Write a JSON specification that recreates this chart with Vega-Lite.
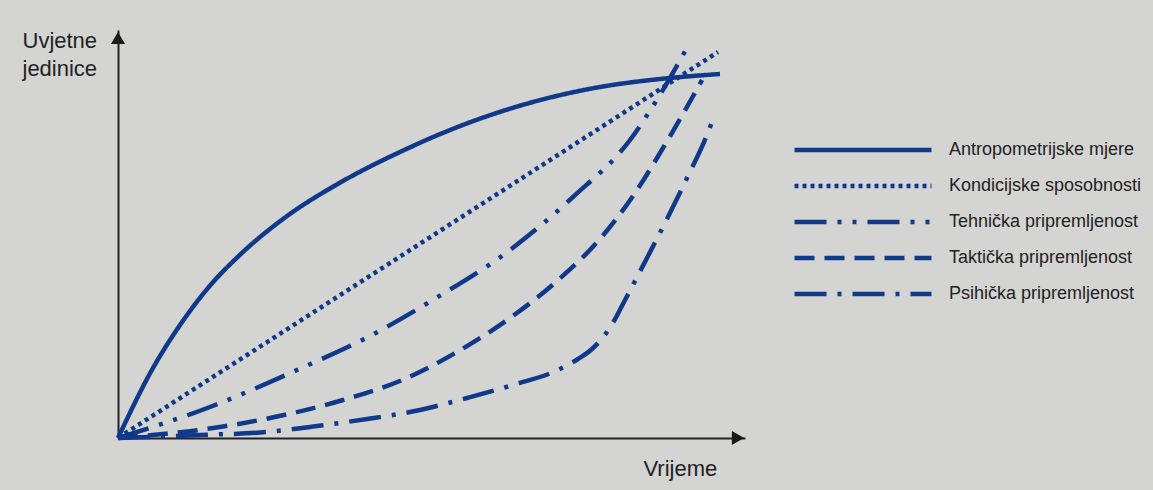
{
  "$schema": "https://vega.github.io/schema/vega-lite/v6.json",
  "width": 627,
  "height": 408,
  "autosize": {"type": "none"},
  "padding": {"left": 118, "top": 30, "right": 408, "bottom": 52},
  "background": "#d4d4d2",
  "config": {
    "view": {"stroke": null},
    "font": "Liberation Sans"
  },
  "datasets": {
    "curves": [
      {"serija": "Antropometrijske mjere", "t": 0, "v": 0},
      {"serija": "Antropometrijske mjere", "t": 35, "v": 70},
      {"serija": "Antropometrijske mjere", "t": 60, "v": 110},
      {"serija": "Antropometrijske mjere", "t": 90, "v": 150},
      {"serija": "Antropometrijske mjere", "t": 125, "v": 186},
      {"serija": "Antropometrijske mjere", "t": 165, "v": 219},
      {"serija": "Antropometrijske mjere", "t": 225, "v": 257},
      {"serija": "Antropometrijske mjere", "t": 282, "v": 286},
      {"serija": "Antropometrijske mjere", "t": 332, "v": 308},
      {"serija": "Antropometrijske mjere", "t": 415, "v": 336},
      {"serija": "Antropometrijske mjere", "t": 482, "v": 351},
      {"serija": "Antropometrijske mjere", "t": 542, "v": 359},
      {"serija": "Antropometrijske mjere", "t": 602, "v": 364},
      {"serija": "Kondicijske sposobnosti", "t": 0, "v": 0},
      {"serija": "Kondicijske sposobnosti", "t": 600, "v": 386},
      {"serija": "Tehnička pripremljenost", "t": 0, "v": 0},
      {"serija": "Tehnička pripremljenost", "t": 92, "v": 31},
      {"serija": "Tehnička pripremljenost", "t": 179, "v": 68},
      {"serija": "Tehnička pripremljenost", "t": 252, "v": 102},
      {"serija": "Tehnička pripremljenost", "t": 318, "v": 140},
      {"serija": "Tehnička pripremljenost", "t": 392, "v": 188},
      {"serija": "Tehnička pripremljenost", "t": 455, "v": 241},
      {"serija": "Tehnička pripremljenost", "t": 512, "v": 298},
      {"serija": "Tehnička pripremljenost", "t": 540, "v": 340},
      {"serija": "Tehnička pripremljenost", "t": 570, "v": 392},
      {"serija": "Taktička pripremljenost", "t": 0, "v": 0},
      {"serija": "Taktička pripremljenost", "t": 102, "v": 11},
      {"serija": "Taktička pripremljenost", "t": 142, "v": 18},
      {"serija": "Taktička pripremljenost", "t": 225, "v": 38},
      {"serija": "Taktička pripremljenost", "t": 289, "v": 60},
      {"serija": "Taktička pripremljenost", "t": 339, "v": 86},
      {"serija": "Taktička pripremljenost", "t": 392, "v": 120},
      {"serija": "Taktička pripremljenost", "t": 439, "v": 157},
      {"serija": "Taktička pripremljenost", "t": 482, "v": 199},
      {"serija": "Taktička pripremljenost", "t": 515, "v": 242},
      {"serija": "Taktička pripremljenost", "t": 545, "v": 290},
      {"serija": "Taktička pripremljenost", "t": 574, "v": 340},
      {"serija": "Taktička pripremljenost", "t": 584, "v": 358},
      {"serija": "Psihička pripremljenost", "t": 0, "v": 0},
      {"serija": "Psihička pripremljenost", "t": 82, "v": 3},
      {"serija": "Psihička pripremljenost", "t": 149, "v": 6},
      {"serija": "Psihička pripremljenost", "t": 199, "v": 12},
      {"serija": "Psihička pripremljenost", "t": 249, "v": 19},
      {"serija": "Psihička pripremljenost", "t": 302, "v": 28},
      {"serija": "Psihička pripremljenost", "t": 349, "v": 40},
      {"serija": "Psihička pripremljenost", "t": 395, "v": 53},
      {"serija": "Psihička pripremljenost", "t": 442, "v": 69},
      {"serija": "Psihička pripremljenost", "t": 460, "v": 79},
      {"serija": "Psihička pripremljenost", "t": 474, "v": 89},
      {"serija": "Psihička pripremljenost", "t": 486, "v": 102},
      {"serija": "Psihička pripremljenost", "t": 496, "v": 117},
      {"serija": "Psihička pripremljenost", "t": 506, "v": 136},
      {"serija": "Psihička pripremljenost", "t": 529, "v": 180},
      {"serija": "Psihička pripremljenost", "t": 549, "v": 219},
      {"serija": "Psihička pripremljenost", "t": 569, "v": 260},
      {"serija": "Psihička pripremljenost", "t": 589, "v": 303},
      {"serija": "Psihička pripremljenost", "t": 594, "v": 316}
    ],
    "arrows": [
      {"t": 620, "v": 0, "oblik": "triangle-right"},
      {"t": 0, "v": 400, "oblik": "triangle-up"}
    ]
  },
  "layer": [
    {
      "data": {"name": "curves"},
      "mark": {"type": "line", "interpolate": "monotone", "strokeWidth": 4.5, "color": "#10398a", "strokeCap": "butt"},
      "encoding": {
        "x": {
          "field": "t", "type": "quantitative",
          "scale": {"domain": [0, 627], "nice": false},
          "axis": {
            "title": "Vrijeme", "labels": false, "ticks": false, "grid": false,
            "domainColor": "#222222", "domainWidth": 2,
            "titleFont": "Liberation Sans", "titleFontSize": 22, "titleFontWeight": "normal", "titleColor": "#222222",
            "titleAnchor": "start", "titleAlign": "left", "titleX": 525, "titleY": 37, "titleBaseline": "alphabetic"
          }
        },
        "y": {
          "field": "v", "type": "quantitative",
          "scale": {"domain": [0, 408], "nice": false},
          "axis": {
            "title": ["Uvjetne", "jedinice"], "labels": false, "ticks": false, "grid": false,
            "domainColor": "#222222", "domainWidth": 2,
            "titleFont": "Liberation Sans", "titleFontSize": 22, "titleFontWeight": "normal", "titleColor": "#222222",
            "titleAngle": 0, "titleAlign": "left", "titleX": -96, "titleY": 17, "titleBaseline": "alphabetic",
            "titleLineHeight": 28
          }
        },
        "detail": {"field": "serija"},
        "strokeDash": {
          "field": "serija", "type": "nominal",
          "scale": {
            "domain": ["Antropometrijske mjere", "Kondicijske sposobnosti", "Tehnička pripremljenost", "Taktička pripremljenost", "Psihička pripremljenost"],
            "range": [[1, 0], [4, 4], [32, 11, 4, 11, 4, 11], [20, 10], [32, 11, 4, 11]]
          },
          "legend": {
            "title": null, "orient": "none", "legendX": 674, "legendY": 105, "padding": 0,
            "symbolType": "stroke", "symbolSize": 18769, "symbolStrokeWidth": 4.5, "symbolStrokeColor": "#10398a",
            "clipHeight": 30, "rowPadding": 6, "labelOffset": 15,
            "labelFont": "Liberation Sans", "labelFontSize": 18, "labelColor": "#222222", "labelLimit": 400
          }
        }
      }
    },
    {
      "data": {"name": "arrows"},
      "mark": {"type": "point", "filled": true, "size": 200, "color": "#1a1a1a", "opacity": 1},
      "encoding": {
        "x": {"field": "t", "type": "quantitative"},
        "y": {"field": "v", "type": "quantitative"},
        "shape": {"field": "oblik", "type": "nominal", "scale": null, "legend": null}
      }
    }
  ]
}
